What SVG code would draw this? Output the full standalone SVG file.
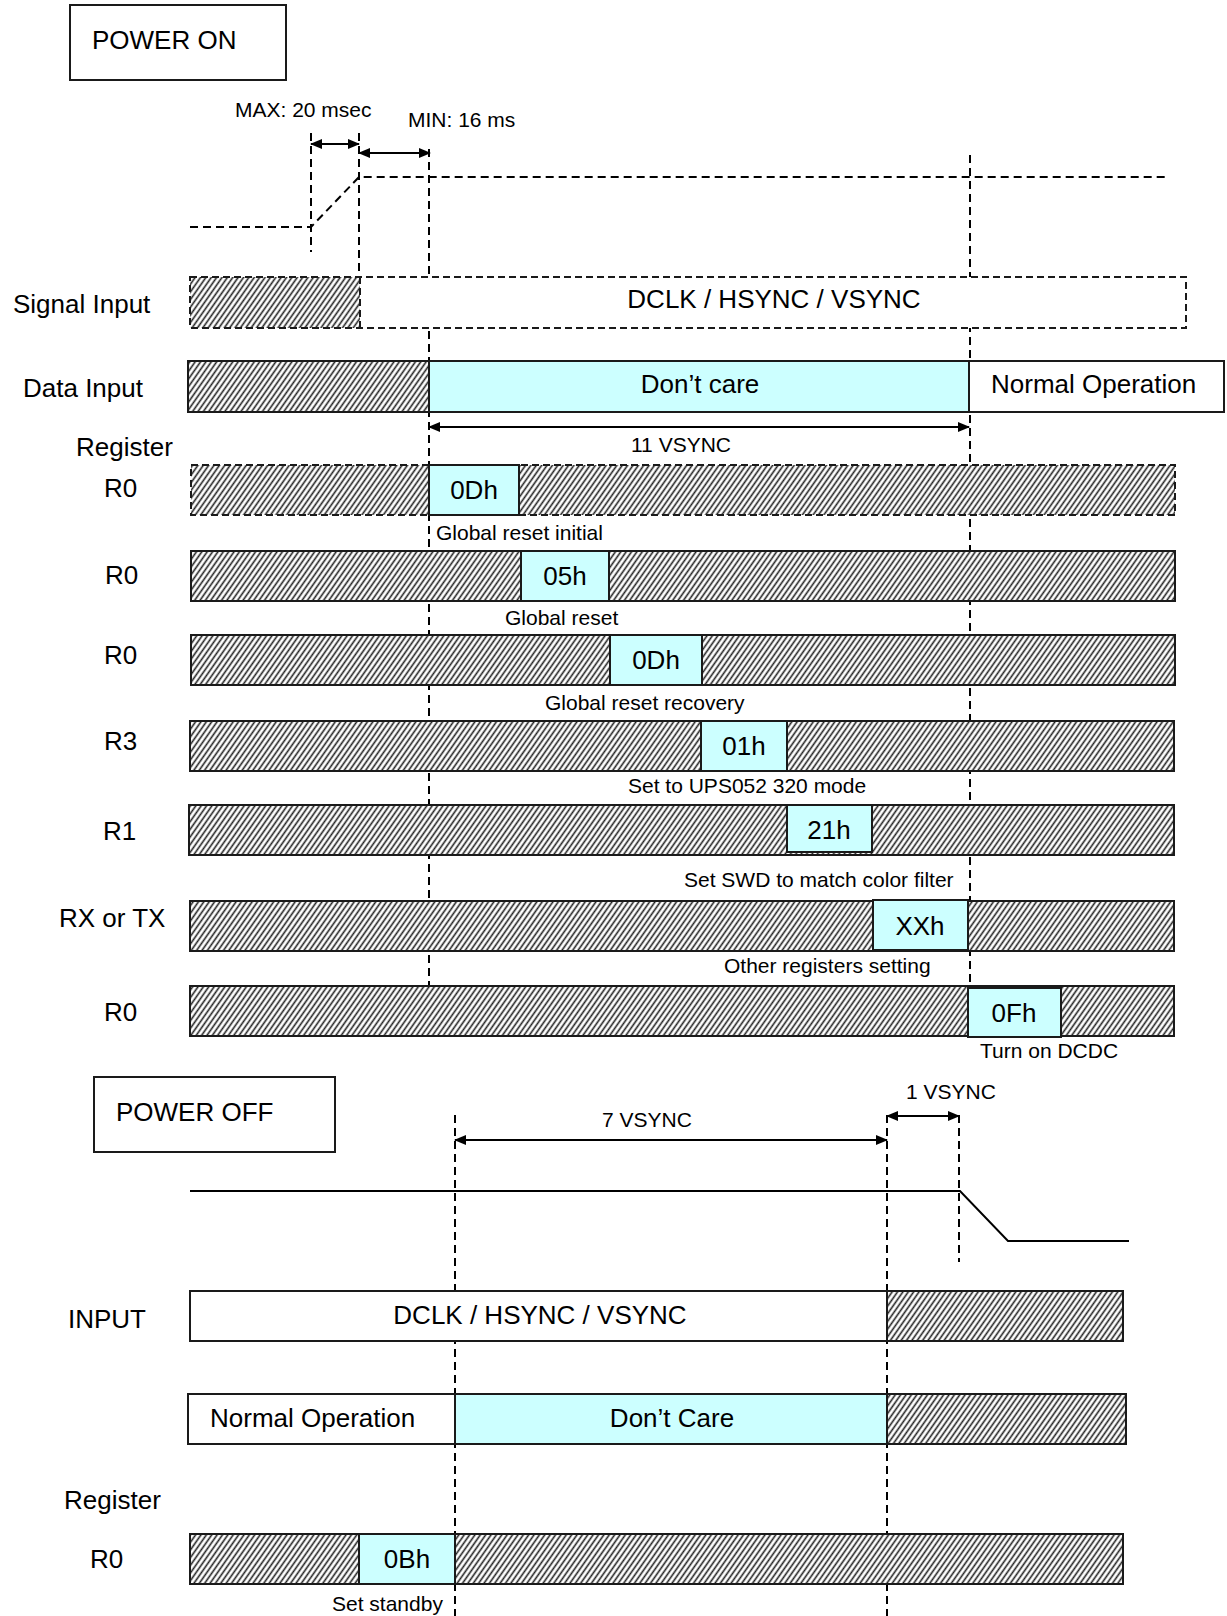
<svg xmlns="http://www.w3.org/2000/svg" width="1227" height="1616" viewBox="0 0 1227 1616">
<style>
text{font-family:"Liberation Sans",Arial,sans-serif;fill:#000}
.lbl{font-size:26px}
.sm{font-size:21px}
.mid{text-anchor:middle}
.bar{stroke:#1a1a1a;stroke-width:2}
.hat{fill:url(#hatch)}
.cy{fill:#ccffff}
.wh{fill:#fff}
.dbar{stroke:#1a1a1a;stroke-width:2;stroke-dasharray:7 4}
.dash{stroke:#000;stroke-width:2;stroke-dasharray:8 5;fill:none}
.arr{stroke:#000;stroke-width:2;fill:none;marker-start:url(#ah);marker-end:url(#ah)}
.wave{stroke:#000;stroke-width:2;fill:none}
</style>
<defs>
<pattern id="hatch" patternUnits="userSpaceOnUse" width="4.4" height="4.4" patternTransform="rotate(35)">
<rect width="4.4" height="4.4" fill="#fff"/>
<line x1="2.2" y1="-1" x2="2.2" y2="5.4" stroke="#222" stroke-width="1.6"/>
</pattern>
<marker id="ah" markerUnits="userSpaceOnUse" markerWidth="12" markerHeight="10" refX="11" refY="5" orient="auto-start-reverse" viewBox="0 0 12 10">
<path d="M0,0 L12,5 L0,10 z" fill="#000"/>
</marker>
</defs>
<rect width="1227" height="1616" fill="#fff"/>

<g id="connectors">
<polyline class="dash" points="190,227 311,227 359,177 1167,177"/>
<line class="dash" x1="311" y1="133" x2="311" y2="252"/>
<line class="dash" x1="359" y1="133" x2="359" y2="328"/>
<line class="dash" x1="429" y1="149" x2="429" y2="986"/>
<line class="dash" x1="970" y1="155" x2="970" y2="988"/>
<line class="arr" x1="311" y1="144" x2="359" y2="144"/>
<line class="arr" x1="359" y1="153" x2="430" y2="153"/>
<line class="arr" x1="429" y1="427" x2="969" y2="427"/>
<line class="dash" x1="455" y1="1115" x2="455" y2="1616"/>
<line class="dash" x1="887" y1="1115" x2="887" y2="1616"/>
<line class="dash" x1="959" y1="1115" x2="959" y2="1262"/>
<line class="arr" x1="455" y1="1140" x2="887" y2="1140"/>
<line class="arr" x1="887" y1="1116" x2="959" y2="1116"/>
<polyline class="wave" points="190,1191 960,1191 1008,1241 1129,1241"/>
</g>

<g id="power-on">
<rect x="70" y="5" width="216" height="75" fill="#fff" stroke="#1a1a1a" stroke-width="2"/>
<text class="lbl" x="92" y="49">POWER ON</text>
</g>
<g id="timing-labels-on">
<text class="sm" x="235" y="117">MAX: 20 msec</text>
<text class="sm" x="408" y="127">MIN: 16 ms</text>
<text class="sm mid" x="681" y="452">11 VSYNC</text>
</g>

<g id="signal-input">
<text class="lbl" x="13" y="313">Signal Input</text>
<rect class="wh" x="190" y="277" width="996" height="51"/>
<rect class="hat" x="190" y="277" width="170" height="51"/>
<rect x="190" y="277" width="996" height="51" fill="none" class="dbar"/>
<line class="dbar" x1="360" y1="277" x2="360" y2="328"/>
<text class="lbl mid" x="774" y="308">DCLK / HSYNC / VSYNC</text>
</g>

<g id="data-input">
<text class="lbl" x="23" y="397">Data Input</text>
<rect class="hat bar" x="188" y="361" width="241" height="51"/>
<rect class="cy bar" x="429" y="361" width="540" height="51"/>
<rect class="wh bar" x="969" y="361" width="255" height="51"/>
<text class="lbl mid" x="700" y="393">Don’t care</text>
<text class="lbl" x="991" y="393">Normal Operation</text>
</g>

<text class="lbl" x="76" y="456">Register</text>

<g id="row-r0-a">
<text class="lbl" x="104" y="497">R0</text>
<rect class="hat" x="191" y="465" width="984" height="50"/>
<rect class="dbar" x="191" y="465" width="984" height="50" fill="none"/>
<rect class="cy bar" x="429" y="465" width="90" height="50"/>
<text class="lbl mid" x="474" y="499">0Dh</text>
<text class="sm" x="436" y="540">Global reset initial</text>
</g>

<g id="row-r0-b">
<text class="lbl" x="105" y="584">R0</text>
<rect class="hat bar" x="191" y="551" width="984" height="50"/>
<rect class="cy bar" x="521" y="551" width="88" height="50"/>
<text class="lbl mid" x="565" y="585">05h</text>
<text class="sm" x="505" y="625">Global reset</text>
</g>

<g id="row-r0-c">
<text class="lbl" x="104" y="664">R0</text>
<rect class="hat bar" x="191" y="635" width="984" height="50"/>
<rect class="cy bar" x="610" y="635" width="92" height="50"/>
<text class="lbl mid" x="656" y="669">0Dh</text>
<text class="sm" x="545" y="710">Global reset recovery</text>
</g>

<g id="row-r3">
<text class="lbl" x="104" y="750">R3</text>
<rect class="hat bar" x="190" y="721" width="984" height="50"/>
<rect class="cy bar" x="701" y="721" width="86" height="50"/>
<text class="lbl mid" x="744" y="755">01h</text>
<text class="sm" x="628" y="793">Set to UPS052 320 mode</text>
</g>

<g id="row-r1">
<text class="lbl" x="103" y="840">R1</text>
<rect class="hat bar" x="189" y="805" width="985" height="50"/>
<rect class="cy bar" x="787" y="805" width="85" height="47"/>
<text class="lbl mid" x="829" y="839">21h</text>
<text class="sm" x="684" y="887">Set SWD to match color filter</text>
</g>

<g id="row-rx">
<text class="lbl" x="59" y="927">RX or TX</text>
<rect class="hat bar" x="190" y="901" width="984" height="50"/>
<rect class="cy bar" x="873" y="900" width="95" height="50"/>
<text class="lbl mid" x="920" y="935">XXh</text>
<text class="sm" x="724" y="973">Other registers setting</text>
</g>

<g id="row-r0-d">
<text class="lbl" x="104" y="1021">R0</text>
<rect class="hat bar" x="190" y="986" width="984" height="50"/>
<rect class="cy bar" x="968" y="988" width="93" height="49"/>
<text class="lbl mid" x="1014" y="1022">0Fh</text>
<text class="sm" x="980" y="1058">Turn on DCDC</text>
</g>

<g id="power-off">
<rect x="94" y="1077" width="241" height="75" fill="#fff" stroke="#1a1a1a" stroke-width="2"/>
<text class="lbl" x="116" y="1121">POWER OFF</text>
</g>
<g id="timing-labels-off">
<text class="sm mid" x="647" y="1127">7 VSYNC</text>
<text class="sm" x="906" y="1099">1 VSYNC</text>
</g>

<g id="input-off">
<text class="lbl" x="68" y="1328">INPUT</text>
<rect class="wh bar" x="190" y="1291" width="697" height="50"/>
<rect class="hat bar" x="887" y="1291" width="236" height="50"/>
<text class="lbl mid" x="540" y="1324">DCLK / HSYNC / VSYNC</text>
</g>

<g id="data-off">
<rect class="wh bar" x="188" y="1394" width="267" height="50"/>
<rect class="cy bar" x="455" y="1394" width="432" height="50"/>
<rect class="hat bar" x="887" y="1394" width="239" height="50"/>
<text class="lbl" x="210" y="1427">Normal Operation</text>
<text class="lbl mid" x="672" y="1427">Don’t Care</text>
</g>

<text class="lbl" x="64" y="1509">Register</text>

<g id="row-r0-off">
<text class="lbl" x="90" y="1568">R0</text>
<rect class="hat bar" x="190" y="1534" width="933" height="50"/>
<rect class="cy bar" x="359" y="1534" width="96" height="50"/>
<text class="lbl mid" x="407" y="1568">0Bh</text>
<text class="sm" x="332" y="1611">Set standby</text>
</g>
</svg>
